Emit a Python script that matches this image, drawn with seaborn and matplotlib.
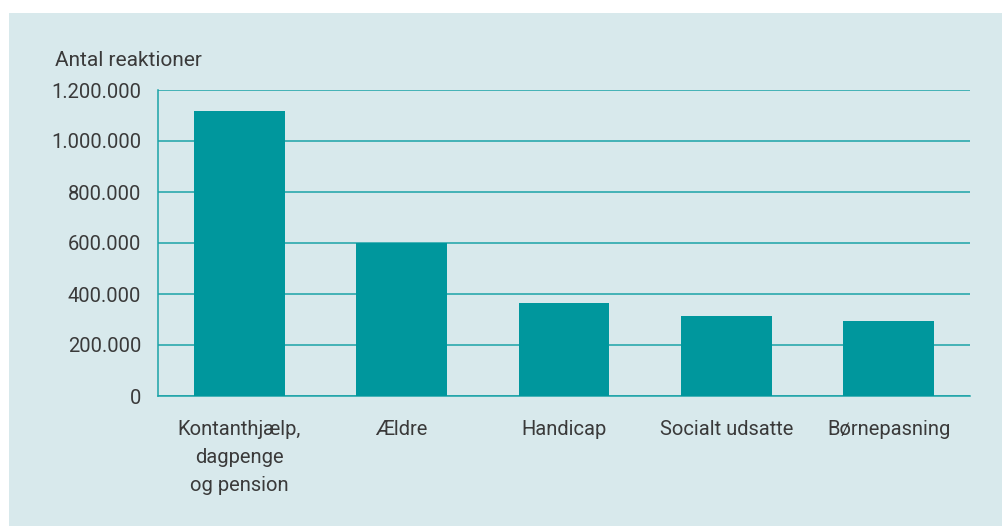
"""Bar chart: antal reaktioner per område."""

import matplotlib

matplotlib.use("Agg")
import matplotlib.pyplot as plt
import pandas as pd
import seaborn as sns
from matplotlib.patches import Rectangle
from matplotlib.ticker import FuncFormatter

categories = ["Kontanthjælp,\ndagpenge\nog pension", "Ældre", "Handicap", "Socialt udsatte", "Børnepasning"]
values = [1118000, 600000, 365000, 314000, 294000]
y_ticks = [0, 200000, 400000, 600000, 800000, 1000000, 1200000]

BG = "#d8e9ec"
BAR = "#00979d"
LINE = "#1ba3a8"
TEXT = "#3a3a3a"

sns.set_theme(style="white")
plt.rcParams["font.family"] = ["Roboto", "DejaVu Sans"]

df = pd.DataFrame({"kategori": categories, "antal": values})

fig = plt.figure(figsize=(10.02, 5.26), dpi=100)
fig.patch.set_facecolor("white")
# light panel with a thin white margin at top and left
fig.patches.append(Rectangle((9 / 1002, 0), 1, 1 - 13 / 526, transform=fig.transFigure,
                             facecolor=BG, edgecolor="none", zorder=-10))

ax = fig.add_axes([158 / 1002, 1 - 396 / 526, (970 - 158) / 1002, (396 - 90) / 526])
ax.set_facecolor("none")

sns.barplot(data=df, x="kategori", y="antal", color=BAR, saturation=1, width=0.56,
            edgecolor="none", linewidth=0, ax=ax, zorder=3)

ax.set_ylim(0, 1200000)
ax.set_xlim(-0.5, 4.5)
ax.set_yticks(y_ticks)
ax.yaxis.set_major_formatter(FuncFormatter(lambda v, p: f"{int(v):,}".replace(",", ".")))
ax.grid(axis="y", color=LINE, linewidth=1.1, zorder=0)
ax.set_axisbelow(True)

for side in ["top", "right"]:
    ax.spines[side].set_visible(False)
for side in ["left", "bottom"]:
    ax.spines[side].set_color(LINE)
    ax.spines[side].set_linewidth(1.1)

ax.tick_params(axis="y", length=0, pad=12, labelsize=14.5, labelcolor=TEXT)
ax.tick_params(axis="x", length=0, pad=17, labelsize=14.5, labelcolor=TEXT)
for lbl in ax.get_xticklabels():
    lbl.set_linespacing(1.6)
    lbl.set_verticalalignment("top")

ax.set_xlabel("")
ax.set_ylabel("")
fig.text(55 / 1002, 1 - 61 / 526, "Antal reaktioner", ha="left", va="center",
         fontsize=15, color=TEXT)

plt.savefig("out.png", dpi=100)
plt.close()
